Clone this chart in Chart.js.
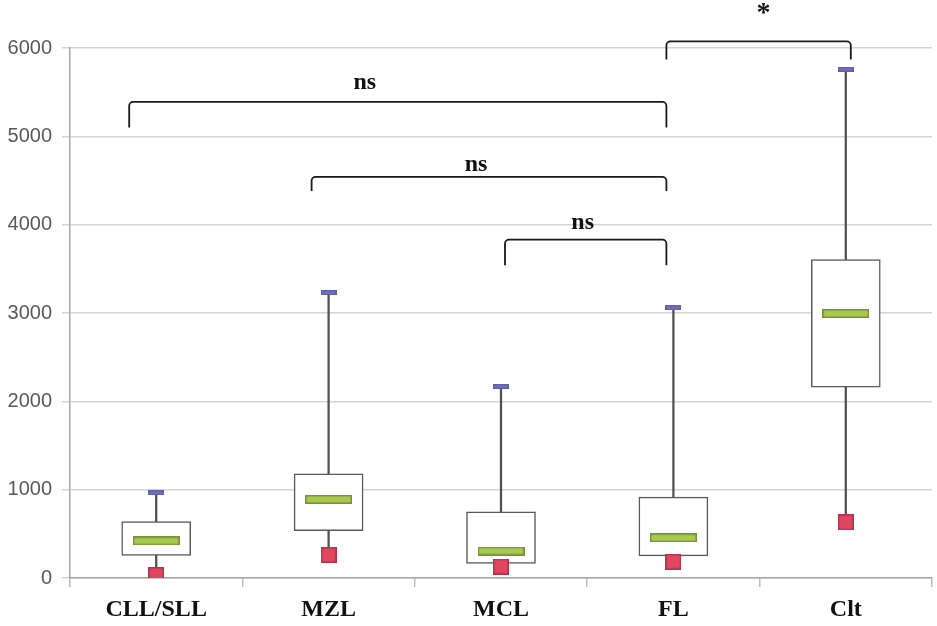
<!DOCTYPE html>
<html>
<head>
<meta charset="utf-8">
<script src="https://cdn.jsdelivr.net/npm/chart.js@4"></script>
<style>
  html, body { margin: 0; padding: 0; background: #fff; }
  #wrap { width: 937px; height: 626px; }
</style>
</head>
<body>
<div id="wrap"><canvas id="myChart_Box"></canvas></div>
<script>
// values
var groups = ["CLL/SLL", "MZL", "MCL", "FL", "Clt"];
var minVals = [35, 260, 130, 185, 630];
var q1Vals = [255, 535, 165, 250, 2160];
var medianVals = [420, 890, 305, 455, 2995];
var q3Vals = [640, 1180, 750, 915, 3605];
var maxVals = [965, 3230, 2170, 3060, 5760];
var yTicks = [0, 1000, 2000, 3000, 4000, 5000, 6000];

// significance brackets (category index from -> to, level, end of the drop)
var bracketFrom = [0, 1, 2, 3];
var bracketTo = [3, 3, 3, 4];
var bracketLevel = [5390, 4540, 3830, 6075];
var bracketDrop = [5100, 4380, 3540, 5870];
var bracketLabel = ["ns", "ns", "ns", "*"];

// small hand-drawn nudges (px)
var bracketNudgeLeft = [-27, -17, 4, -7];
var bracketNudgeRight = [-7, -7, -7, 5];
var labelNudgeX = [-33, -13, -3, 5];
var labelRise = [21, 14, 19, 28];

function makeMarker(w, h, fill, stroke) {
  var c = document.createElement("canvas");
  c.width = w;
  c.height = h;
  var g = c.getContext("2d");
  g.fillStyle = fill;
  g.fillRect(0, 0, w, h);
  g.strokeStyle = stroke;
  g.lineWidth = 1.5;
  g.strokeRect(0.75, 0.75, w - 1.5, h - 1.5);
  return c;
}

var medianMark = makeMarker(47, 9, "#a6c94f", "#7a8f3a");
var minMark = makeMarker(16, 16, "#e04660", "#b0344c");
var maxMark = makeMarker(16, 5, "#7575bd", "#6060a8");

var bracketPlugin = {
  id: "brackets",
  afterDatasetsDraw: function (chart) {
    var ctx = chart.ctx;
    var xs = chart.scales.x;
    var ys = chart.scales.y;
    ctx.save();
    ctx.strokeStyle = "#1a1a1a";
    ctx.lineWidth = 1.8;
    ctx.fillStyle = "#111";
    ctx.textAlign = "center";
    ctx.textBaseline = "bottom";
    for (var i = 0; i < bracketLabel.length; i++) {
      var x1 = xs.getPixelForValue(bracketFrom[i]) + bracketNudgeLeft[i];
      var x2 = xs.getPixelForValue(bracketTo[i]) + bracketNudgeRight[i];
      var yTop = ys.getPixelForValue(bracketLevel[i]);
      var yEnd = ys.getPixelForValue(bracketDrop[i]);
      ctx.beginPath();
      ctx.moveTo(x1, yEnd);
      ctx.arcTo(x1, yTop, x1 + 6, yTop, 4);
      ctx.arcTo(x2, yTop, x2, yEnd, 4);
      ctx.lineTo(x2, yEnd);
      ctx.stroke();
      var tx = (x1 + x2) / 2 + labelNudgeX[i];
      ctx.font = bracketLabel[i] === "*"
        ? "bold 28px 'Liberation Serif', serif"
        : "bold 24px 'Liberation Serif', serif";
      ctx.fillText(bracketLabel[i], tx, yTop - labelRise[i] + 14);
    }
    ctx.restore();
  },
};

var ctx_Box = document.getElementById("myChart_Box").getContext("2d");

new Chart(ctx_Box, {
  type: "bar",
  data: {
    labels: groups,
    datasets: [
      {
        label: "max",
        type: "line",
        data: maxVals,
        showLine: false,
        pointStyle: maxMark,
        order: 1,
      },
      {
        label: "min",
        type: "line",
        data: minVals,
        showLine: false,
        pointStyle: minMark,
        order: 1,
      },
      {
        label: "median",
        type: "line",
        data: medianVals,
        showLine: false,
        pointStyle: medianMark,
        order: 2,
      },
      {
        label: "box",
        data: groups.map(function (g, i) {
          return [q1Vals[i], q3Vals[i]];
        }),
        backgroundColor: "#ffffff",
        borderColor: "#5a5a5a",
        borderWidth: 1.5,
        borderSkipped: false,
        barThickness: 69,
        grouped: false,
        order: 3,
      },
      {
        label: "whisker",
        data: groups.map(function (g, i) {
          return [minVals[i], maxVals[i]];
        }),
        backgroundColor: "#505050",
        borderWidth: 0,
        barThickness: 1.6,
        grouped: false,
        order: 4,
      },
    ],
  },
  options: {
    responsive: true,
    maintainAspectRatio: false,
    animation: false,
    layout: { padding: { top: 48, right: 4, left: 0, bottom: 0 } },
    plugins: {
      legend: { display: false },
      tooltip: { enabled: false },
    },
    scales: {
      x: {
        offset: true,
        grid: {
          offset: true,
          drawOnChartArea: false,
          tickLength: 9,
          color: "#bdbdbd",
          lineWidth: 1.5,
        },
        border: { color: "#a6a6a6", width: 1.5 },
        ticks: {
          color: "#111",
          padding: 8,
          font: { family: "'Liberation Serif', serif", size: 24, weight: "bold" },
        },
        afterFit: function (scale) {
          scale.height = 48;
        },
      },
      y: {
        min: 0,
        max: 6000,
        afterBuildTicks: function (scale) {
          scale.ticks = yTicks.map(function (v) {
            return { value: v };
          });
        },
        grid: { color: "#d4d4d4", lineWidth: 1.5, tickLength: 8 },
        border: { color: "#a6a6a6", width: 1.5 },
        ticks: {
          color: "#595959",
          padding: 10,
          font: { family: "'Liberation Sans', sans-serif", size: 20 },
          callback: function (value) {
            return String(value);
          },
        },
        afterFit: function (scale) {
          scale.width = 70;
        },
      },
    },
  },
  plugins: [bracketPlugin],
});
</script>
</body>
</html>
